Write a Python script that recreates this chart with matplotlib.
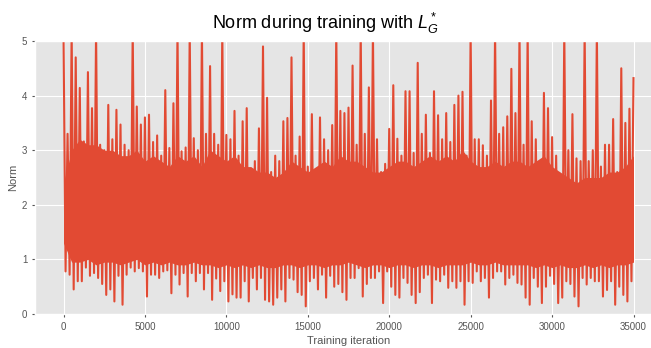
import numpy as np
import matplotlib.pyplot as plt

plt.style.use("ggplot")
plt.rcParams["font.family"] = ["Liberation Sans", "DejaVu Sans"]
plt.rcParams["mathtext.fontset"] = "custom"
plt.rcParams["mathtext.it"] = "Liberation Sans:italic"
plt.rcParams["mathtext.rm"] = "Liberation Sans"

# gradient norm, max / min per 250 iterations
step = 250
norm_max = [
    5.2, 3.3, 5.2, 4.7, 4.14, 3.16, 4.43, 3.77, 5.2, 3.1, 3.0, 3.83, 3.2, 3.74,
    3.47, 3.1, 3.0, 5.2, 3.8, 3.47, 3.6, 3.65, 3.15, 3.27, 2.9, 4.1, 3.04, 3.86,
    5.2, 2.98, 3.05, 5.2, 3.22, 3.0, 5.2, 3.3, 4.54, 3.3, 3.1, 5.2, 3.28, 3.2,
    3.72, 2.9, 3.53, 3.77, 2.5, 2.8, 3.4, 4.9, 3.96, 2.6, 2.9, 2.8, 3.53, 3.59, 4.7,
    2.9, 3.25, 5.2, 2.7, 3.66, 2.6, 3.6, 3.2, 3.0, 3.46, 5.2, 3.72, 3.68, 3.78,
    4.55, 3.1, 5.2, 3.3, 4.15, 5.2, 3.2, 2.6, 2.75, 3.39, 4.19, 3.21, 2.9, 4.08,
    4.08, 2.95, 4.6, 3.3, 3.65, 2.95, 4.08, 3.64, 3.2, 3.68, 3.15, 3.83, 4.0, 4.07,
    2.9, 5.2, 3.2, 3.2, 3.09, 2.9, 3.91, 5.2, 3.3, 3.42, 3.62, 4.49, 3.68, 5.2, 3.1,
    5.2, 3.53, 3.2, 2.65, 4.05, 3.77, 3.24, 2.9, 2.45, 5.2, 3.0, 3.66, 2.85, 2.8,
    5.2, 2.8, 3.0, 5.2, 2.7, 3.1, 3.1, 3.57, 2.6, 4.5, 3.5, 3.76, 4.32,
]
norm_min = [
    0.78, 0.72, 0.45, 0.6, 0.6, 0.85, 0.7, 0.75, 0.66, 0.55, 0.35, 0.45, 0.23, 0.7,
    0.17, 0.72, 0.85, 0.78, 0.84, 0.78, 0.32, 0.72, 0.72, 0.66, 0.78, 0.8, 0.38, 0.72,
    0.54, 0.75, 0.32, 0.75, 0.6, 0.75, 0.45, 0.75, 0.26, 0.65, 0.42, 0.6, 0.23, 0.36,
    0.3, 0.3, 0.6, 0.23, 0.66, 0.45, 0.66, 0.26, 0.23, 0.17, 0.3, 0.45, 0.23, 0.66, 0.63,
    0.4, 0.35, 0.14, 0.6, 0.66, 0.45, 0.72, 0.3, 0.7, 0.5, 0.55, 0.4, 0.26, 0.66,
    0.66, 0.84, 0.32, 0.55, 0.66, 0.66, 0.78, 0.2, 0.78, 0.5, 0.35, 0.3, 0.66, 0.57,
    0.35, 0.2, 0.4, 0.66, 0.72, 0.2, 0.63, 0.6, 0.72, 0.48, 0.6, 0.48, 0.6, 0.17,
    0.6, 0.57, 0.78, 0.6, 0.66, 0.3, 0.66, 0.78, 0.78, 0.54, 0.66, 0.72, 0.57, 0.54, 0.3,
    0.17, 0.66, 0.5, 0.2, 0.5, 0.7, 0.55, 0.2, 0.3, 0.6, 0.55, 0.32, 0.14, 0.66,
    0.54, 0.66, 0.6, 0.6, 0.32, 0.44, 0.6, 0.17, 0.5, 0.35, 0.23, 0.6,
]

# band the bulk of the samples falls in, per 500 iterations
band_step = 500
band_hi = [
    2.4, 3.0, 3.2, 3.1, 3.1, 3.0, 3.0, 2.9, 2.9, 3.0, 2.8, 2.9, 2.8, 2.7, 2.9,
    2.8, 2.9, 2.7, 3.0, 2.9, 2.8, 2.9, 2.7, 2.7, 2.6, 2.6, 2.5, 2.6, 2.8,
    2.7, 2.6, 2.7, 2.8, 2.7, 2.9, 2.8, 2.8, 2.7, 2.6, 2.6, 2.7, 2.8, 2.8,
    2.7, 2.8, 2.9, 2.8, 2.9, 2.8, 3.0, 2.8, 2.7, 2.7, 2.8, 2.7, 2.8, 2.8,
    2.7, 2.8, 2.9, 2.7, 2.6, 2.5, 2.4, 2.5, 2.5, 2.5, 2.6, 2.6, 2.7, 2.9,
]
band_lo = [
    1.3, 0.95, 0.95, 1.0, 0.9, 0.95, 0.95, 0.9, 0.95, 1.0, 0.9, 0.95, 0.9, 0.95, 0.9,
    0.9, 0.95, 0.9, 0.9, 0.85, 0.9, 0.85, 0.9, 0.85, 0.9, 0.85, 0.85, 0.9, 0.9,
    0.85, 0.9, 0.9, 0.85, 0.9, 0.9, 0.95, 0.9, 0.85, 0.9, 0.9, 0.85, 0.9, 0.9,
    0.85, 0.9, 0.9, 0.85, 0.9, 0.9, 0.9, 0.95, 0.9, 0.9, 0.95, 0.9, 0.9, 0.9,
    0.9, 0.85, 0.9, 0.85, 0.9, 0.85, 0.85, 0.9, 0.85, 0.9, 0.85, 0.9, 0.9, 0.95,
]

# interleave peaks and troughs along the iteration axis
it = np.arange(len(norm_max) + len(norm_min)) * step / 2
norm = np.empty(len(it))
norm[0::2] = norm_max
norm[1::2] = norm_min
band_it = np.arange(len(band_hi)) * band_step

red = "#E24A33"
fig = plt.figure(figsize=(6.51, 3.48), dpi=100)
ax = fig.add_axes([35 / 651, 34 / 348, 627 / 651, 273 / 348])
ax.fill_between(band_it, band_lo, band_hi, color=red, linewidth=0)
ax.plot(it, norm, color=red, linewidth=1.5)
ax.set_ylim(0, 5)
ax.set_xlim(-1750, 36750)
ax.set_xticks(np.arange(0, 35001, 5000))
ax.tick_params(labelsize=7, colors="#555555", length=2)
ax.set_xlabel("Training iteration", fontsize=8, color="#555555", labelpad=3)
ax.set_ylabel("Norm", fontsize=8, color="#555555", labelpad=3)
fig.suptitle("Norm during training with $L_G^*$", fontsize=13, y=0.97)

fig.savefig("out.png", dpi=100)
